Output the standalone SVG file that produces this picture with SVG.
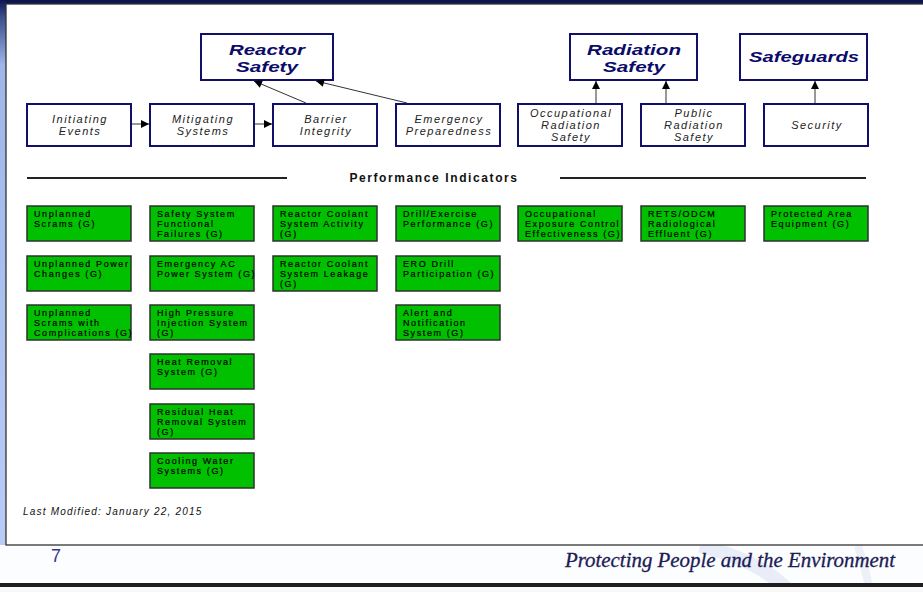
<svg xmlns="http://www.w3.org/2000/svg" width="923" height="592" viewBox="0 0 923 592">
<defs>
<linearGradient id="strip" x1="0" y1="0" x2="0" y2="1">
<stop offset="0" stop-color="#0d1550"/>
<stop offset="0.03" stop-color="#3a4c8c"/>
<stop offset="0.12" stop-color="#9fb6ea"/>
<stop offset="1" stop-color="#b8ccf6"/>
</linearGradient>
<marker id="ah" viewBox="0 0 10 10" refX="10" refY="5" markerWidth="9" markerHeight="8" markerUnits="userSpaceOnUse" orient="auto">
<path d="M0,0 L10,5 L0,10 Z" fill="#000"/>
</marker>
<style>
.title{font-family:"Liberation Sans",Arial,sans-serif;font-weight:bold;font-style:italic;font-size:15px;fill:#0b0b6a;text-anchor:middle}
.tbox{fill:#fff;stroke:#10106a;stroke-width:2}
.cat{font-family:"Liberation Sans",Arial,sans-serif;font-style:italic;font-size:11px;letter-spacing:1.5px;fill:#222;text-anchor:middle}
.pi{fill:#00c000;stroke:#2b332b;stroke-width:1.5}
.pit{font-family:"Liberation Sans",Arial,sans-serif;font-size:9px;letter-spacing:1.6px;fill:#000;stroke:#000;stroke-width:0.2}
.conn{stroke:#333;stroke-width:1;fill:none}
.rule{stroke:#222;stroke-width:2}
</style>
</defs>

<!-- background -->
<rect x="0" y="0" width="923" height="592" fill="#fcfdfe"/>
<path d="M700,546 Q760,560 790,592" fill="none" stroke="#dbe3f1" stroke-width="14" opacity="0.6"/>
<path d="M858,546 Q866,570 870,592" fill="none" stroke="#e2e7f0" stroke-width="8" opacity="0.6"/>
<rect x="0" y="0" width="923" height="4" fill="#0d1550"/>
<rect x="0" y="0" width="6" height="545" fill="url(#strip)"/>
<rect x="6" y="4" width="925" height="541" fill="#fff" stroke="#333" stroke-width="1.3"/>
<rect x="0" y="583" width="923" height="4" fill="#1e1e1e"/>
<rect x="0" y="587" width="923" height="5" fill="#f8f8f8"/>
<text x="51" y="562" font-family="Liberation Sans,Arial,sans-serif" font-size="18" fill="#3535a0">7</text>
<text x="565" y="567" font-family="Liberation Serif,'Times New Roman',serif" font-style="italic" font-size="20" fill="#1c1c55" stroke="#1c1c55" stroke-width="0.3" textLength="330" lengthAdjust="spacingAndGlyphs">Protecting People and the Environment</text>

<!-- top categories -->
<g id="reactor-safety">
<rect class="tbox" x="201" y="34" width="132" height="46"/>
<text class="title" x="267" y="55" textLength="76" lengthAdjust="spacingAndGlyphs">Reactor</text>
<text class="title" x="267" y="72" textLength="62" lengthAdjust="spacingAndGlyphs">Safety</text>
</g>
<g id="radiation-safety">
<rect class="tbox" x="570" y="34" width="127" height="46"/>
<text class="title" x="634" y="55" textLength="94" lengthAdjust="spacingAndGlyphs">Radiation</text>
<text class="title" x="634" y="72" textLength="62" lengthAdjust="spacingAndGlyphs">Safety</text>
</g>
<g id="safeguards">
<rect class="tbox" x="740" y="34" width="127" height="46"/>
<text class="title" x="804" y="62" textLength="110" lengthAdjust="spacingAndGlyphs">Safeguards</text>
</g>

<!-- cornerstones -->
<g id="initiating-events">
<rect class="tbox" x="27" y="104" width="104" height="42"/>
<text class="cat" x="80" y="123">Initiating</text>
<text class="cat" x="80" y="135">Events</text>
</g>
<g id="mitigating-systems">
<rect class="tbox" x="150" y="104" width="104" height="42"/>
<text class="cat" x="203" y="123">Mitigating</text>
<text class="cat" x="203" y="135">Systems</text>
</g>
<g id="barrier-integrity">
<rect class="tbox" x="273" y="104" width="104" height="42"/>
<text class="cat" x="326" y="123">Barrier</text>
<text class="cat" x="326" y="135">Integrity</text>
</g>
<g id="emergency-preparedness">
<rect class="tbox" x="396" y="104" width="104" height="42"/>
<text class="cat" x="449" y="123">Emergency</text>
<text class="cat" x="449" y="135">Preparedness</text>
</g>
<g id="occupational-radiation-safety">
<rect class="tbox" x="518" y="104" width="104" height="42"/>
<text class="cat" x="571" y="117">Occupational</text>
<text class="cat" x="571" y="129">Radiation</text>
<text class="cat" x="571" y="141">Safety</text>
</g>
<g id="public-radiation-safety">
<rect class="tbox" x="641" y="104" width="104" height="42"/>
<text class="cat" x="694" y="117">Public</text>
<text class="cat" x="694" y="129">Radiation</text>
<text class="cat" x="694" y="141">Safety</text>
</g>
<g id="security">
<rect class="tbox" x="764" y="104" width="104" height="42"/>
<text class="cat" x="817" y="129">Security</text>
</g>

<!-- connectors -->
<g id="connectors">
<line class="conn" x1="132" y1="124" x2="149" y2="124" marker-end="url(#ah)"/>
<line class="conn" x1="255" y1="124" x2="272" y2="124" marker-end="url(#ah)"/>
<line class="conn" x1="306" y1="103" x2="254" y2="81" marker-end="url(#ah)"/>
<line class="conn" x1="407" y1="103" x2="316" y2="81" marker-end="url(#ah)"/>
<line class="conn" x1="596" y1="103" x2="596" y2="81" marker-end="url(#ah)"/>
<line class="conn" x1="666" y1="103" x2="666" y2="81" marker-end="url(#ah)"/>
<line class="conn" x1="815" y1="103" x2="815" y2="81" marker-end="url(#ah)"/>
</g>

<!-- performance indicators header -->
<g id="pi-header">
<line class="rule" x1="27" y1="178" x2="287" y2="178"/>
<text x="434" y="182" font-family="Liberation Sans,Arial,sans-serif" font-weight="bold" font-size="12" letter-spacing="1.6" fill="#111" text-anchor="middle">Performance Indicators</text>
<line class="rule" x1="560" y1="178" x2="866" y2="178"/>
</g>

<!-- column 1 -->
<g id="pi-unplanned-scrams">
<rect class="pi" x="27" y="206" width="104" height="35"/>
<text class="pit" x="34" y="217">Unplanned</text>
<text class="pit" x="34" y="227">Scrams (G)</text>
</g>
<g id="pi-unplanned-power-changes">
<rect class="pi" x="27" y="256" width="104" height="35"/>
<text class="pit" x="34" y="267">Unplanned Power</text>
<text class="pit" x="34" y="277">Changes (G)</text>
</g>
<g id="pi-unplanned-scrams-complications">
<rect class="pi" x="27" y="305" width="104" height="35"/>
<text class="pit" x="34" y="316">Unplanned</text>
<text class="pit" x="34" y="326">Scrams with</text>
<text class="pit" x="34" y="336">Complications (G)</text>
</g>

<!-- column 2 -->
<g id="pi-ssff">
<rect class="pi" x="150" y="206" width="104" height="35"/>
<text class="pit" x="157" y="217">Safety System</text>
<text class="pit" x="157" y="227">Functional</text>
<text class="pit" x="157" y="237">Failures (G)</text>
</g>
<g id="pi-eac">
<rect class="pi" x="150" y="256" width="104" height="35"/>
<text class="pit" x="157" y="267">Emergency AC</text>
<text class="pit" x="157" y="277">Power System (G)</text>
</g>
<g id="pi-hpi">
<rect class="pi" x="150" y="305" width="104" height="35"/>
<text class="pit" x="157" y="316">High Pressure</text>
<text class="pit" x="157" y="326">Injection System</text>
<text class="pit" x="157" y="336">(G)</text>
</g>
<g id="pi-hrs">
<rect class="pi" x="150" y="354" width="104" height="35"/>
<text class="pit" x="157" y="365">Heat Removal</text>
<text class="pit" x="157" y="375">System (G)</text>
</g>
<g id="pi-rhr">
<rect class="pi" x="150" y="404" width="104" height="35"/>
<text class="pit" x="157" y="415">Residual Heat</text>
<text class="pit" x="157" y="425">Removal System</text>
<text class="pit" x="157" y="435">(G)</text>
</g>
<g id="pi-cws">
<rect class="pi" x="150" y="453" width="104" height="35"/>
<text class="pit" x="157" y="464">Cooling Water</text>
<text class="pit" x="157" y="474">Systems (G)</text>
</g>

<!-- column 3 -->
<g id="pi-rcs-activity">
<rect class="pi" x="273" y="206" width="104" height="35"/>
<text class="pit" x="280" y="217">Reactor Coolant</text>
<text class="pit" x="280" y="227">System Activity</text>
<text class="pit" x="280" y="237">(G)</text>
</g>
<g id="pi-rcs-leakage">
<rect class="pi" x="273" y="256" width="104" height="35"/>
<text class="pit" x="280" y="267">Reactor Coolant</text>
<text class="pit" x="280" y="277">System Leakage</text>
<text class="pit" x="280" y="287">(G)</text>
</g>

<!-- column 4 -->
<g id="pi-drill">
<rect class="pi" x="396" y="206" width="104" height="35"/>
<text class="pit" x="403" y="217">Drill/Exercise</text>
<text class="pit" x="403" y="227">Performance (G)</text>
</g>
<g id="pi-ero">
<rect class="pi" x="396" y="256" width="104" height="35"/>
<text class="pit" x="403" y="267">ERO Drill</text>
<text class="pit" x="403" y="277">Participation (G)</text>
</g>
<g id="pi-ans">
<rect class="pi" x="396" y="305" width="104" height="35"/>
<text class="pit" x="403" y="316">Alert and</text>
<text class="pit" x="403" y="326">Notification</text>
<text class="pit" x="403" y="336">System (G)</text>
</g>

<!-- column 5-7 -->
<g id="pi-occupational">
<rect class="pi" x="518" y="206" width="104" height="35"/>
<text class="pit" x="525" y="217">Occupational</text>
<text class="pit" x="525" y="227">Exposure Control</text>
<text class="pit" x="525" y="237">Effectiveness (G)</text>
</g>
<g id="pi-rets">
<rect class="pi" x="641" y="206" width="104" height="35"/>
<text class="pit" x="648" y="217">RETS/ODCM</text>
<text class="pit" x="648" y="227">Radiological</text>
<text class="pit" x="648" y="237">Effluent (G)</text>
</g>
<g id="pi-protected-area">
<rect class="pi" x="764" y="206" width="104" height="35"/>
<text class="pit" x="771" y="217">Protected Area</text>
<text class="pit" x="771" y="227">Equipment (G)</text>
</g>

<text x="23" y="515" font-family="Liberation Sans,Arial,sans-serif" font-style="italic" font-size="10" letter-spacing="1.2" fill="#111">Last Modified:  January 22, 2015</text>
</svg>
